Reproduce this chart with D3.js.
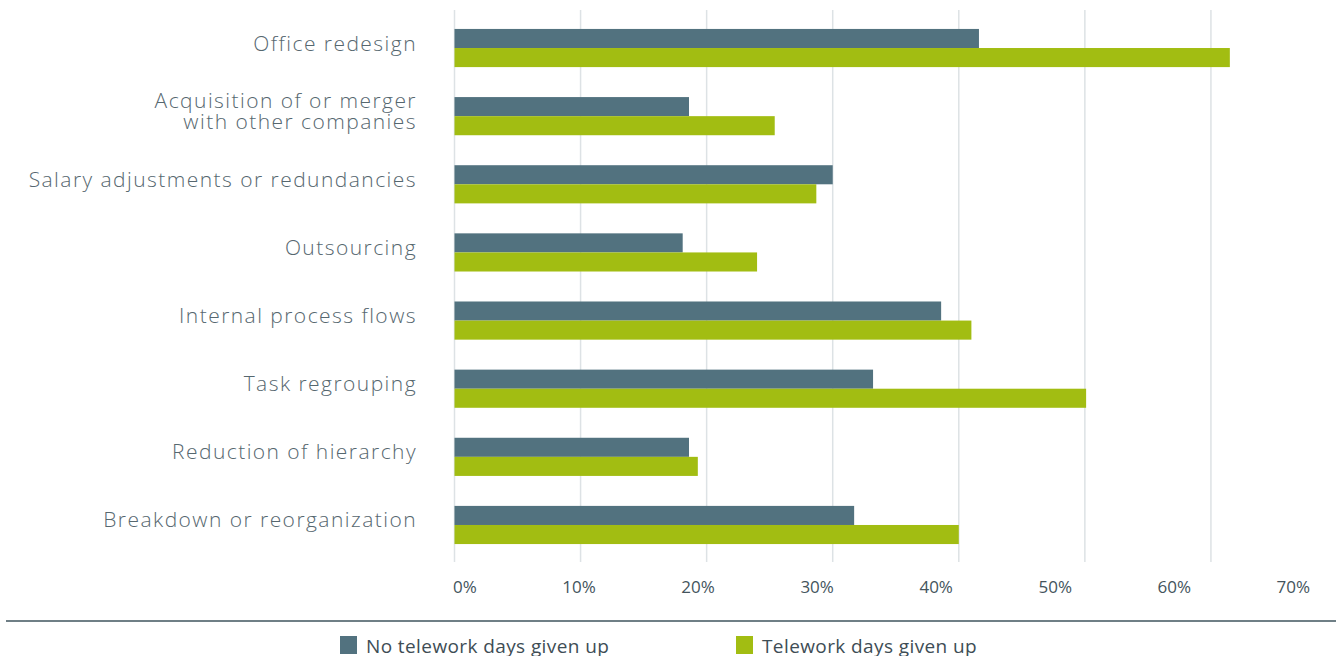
<!DOCTYPE html>
<html>
<head>
<meta charset="utf-8">
<script src="https://cdn.jsdelivr.net/npm/d3@7/dist/d3.min.js"></script>
<style>
  html, body { margin: 0; padding: 0; background: #ffffff; }
  svg { display: block; }
  .cat { font-family: "Open Sans", "Lato", sans-serif; font-weight: 300; fill: #56676f; }
  .tick-label { font-family: "Open Sans", "Lato", sans-serif; font-weight: 400; fill: #44545c; }
  .legend-label { font-family: "Open Sans", "Lato", sans-serif; font-weight: 400; fill: #3e4d55; }
</style>
</head>
<body>
<svg id="chart" width="1336" height="656"></svg>
<script>
// Categories (a "\n" marks a manual line break in the label)
const categories = [
  "Office redesign",
  "Acquisition of or merger\nwith other companies",
  "Salary adjustments or redundancies",
  "Outsourcing",
  "Internal process flows",
  "Task regrouping",
  "Reduction of hierarchy",
  "Breakdown or reorganization"
];

const seriesNames = ["No telework days given up", "Telework days given up"];

// Share of respondents (%)
const noTelework = [41.6, 18.6, 30.0, 18.1, 38.6, 33.2, 18.6, 31.7];
const telework   = [61.5, 25.4, 28.7, 24.0, 41.0, 50.1, 19.3, 40.0];

const tickValues = [0, 10, 20, 30, 40, 50, 60, 70];
const tickLabels = ["0%", "10%", "20%", "30%", "40%", "50%", "60%", "70%"];

const colors = ["#52727f", "#a2bd12"];

const svg = d3.select("#chart");
const W = 1336, H = 656;

const x = d3.scaleLinear().domain([0, 70]).range([454.5, 1337]);
const y = d3.scaleBand()
  .domain(categories)
  .range([13.95, 559.05])
  .paddingInner(0.44)
  .paddingOuter(0.22);
const sub = d3.scaleBand().domain(seriesNames).range([0, y.bandwidth()]);

// Vertical gridlines
svg.append("g")
  .selectAll("line")
  .data(tickValues)
  .join("line")
  .attr("x1", d => x(d))
  .attr("x2", d => x(d))
  .attr("y1", 10)
  .attr("y2", 562)
  .attr("stroke", "#dde2e5")
  .attr("stroke-width", 1.5);

// Bars
const rows = categories.map((c, i) => ({ cat: c, values: [noTelework[i], telework[i]] }));
const groups = svg.append("g")
  .selectAll("g")
  .data(rows)
  .join("g")
  .attr("transform", d => `translate(0,${y(d.cat)})`);

groups.selectAll("rect")
  .data(d => d.values.map((v, k) => ({ v, k })))
  .join("rect")
  .attr("x", x(0))
  .attr("y", d => sub(seriesNames[d.k]))
  .attr("width", d => x(d.v) - x(0))
  .attr("height", sub.bandwidth())
  .attr("fill", d => colors[d.k]);

// Category labels
const catG = svg.append("g");
categories.forEach(c => {
  const lines = c.split("\n");
  const cy = y(c) + y.bandwidth() / 2;
  const t = catG.append("text")
    .attr("class", "cat")
    .attr("text-anchor", "end")
    .attr("font-size", 21)
    .attr("letter-spacing", 1.45);
  lines.forEach((ln, i) => {
    t.append("tspan")
      .attr("x", 417)
      .attr("y", cy + 2.5 + (i - (lines.length - 1) / 2) * 21)
      .text(ln);
  });
});

// X tick labels, spread evenly across the axis row
const tg = svg.append("g");
const tt = tg.selectAll("text")
  .data(tickLabels)
  .join("text")
  .attr("class", "tick-label")
  .attr("font-size", 17)
  .attr("y", 593)
  .text(d => d);
const widths = tt.nodes().map(n => n.getComputedTextLength());
const left = 453, right = 1310;
const gap = (right - left - d3.sum(widths)) / (tickLabels.length - 1);
let cursor = left;
tt.attr("x", (d, i) => { const px = cursor; cursor += widths[i] + gap; return px; });

// Separator rule
svg.append("line")
  .attr("x1", 6).attr("x2", W)
  .attr("y1", 621).attr("y2", 621)
  .attr("stroke", "#6f7f86")
  .attr("stroke-width", 2);

// Legend
const legendX = [340, 736];
const lg = svg.append("g")
  .selectAll("g")
  .data(seriesNames)
  .join("g")
  .attr("transform", (d, i) => `translate(${legendX[i]},636)`);
lg.append("rect")
  .attr("width", 17).attr("height", 18)
  .attr("fill", (d, i) => colors[i]);
lg.append("text")
  .attr("class", "legend-label")
  .attr("x", 26)
  .attr("y", 17)
  .attr("font-size", 19)
  .attr("letter-spacing", 0.4)
  .text(d => d);
</script>
</body>
</html>
